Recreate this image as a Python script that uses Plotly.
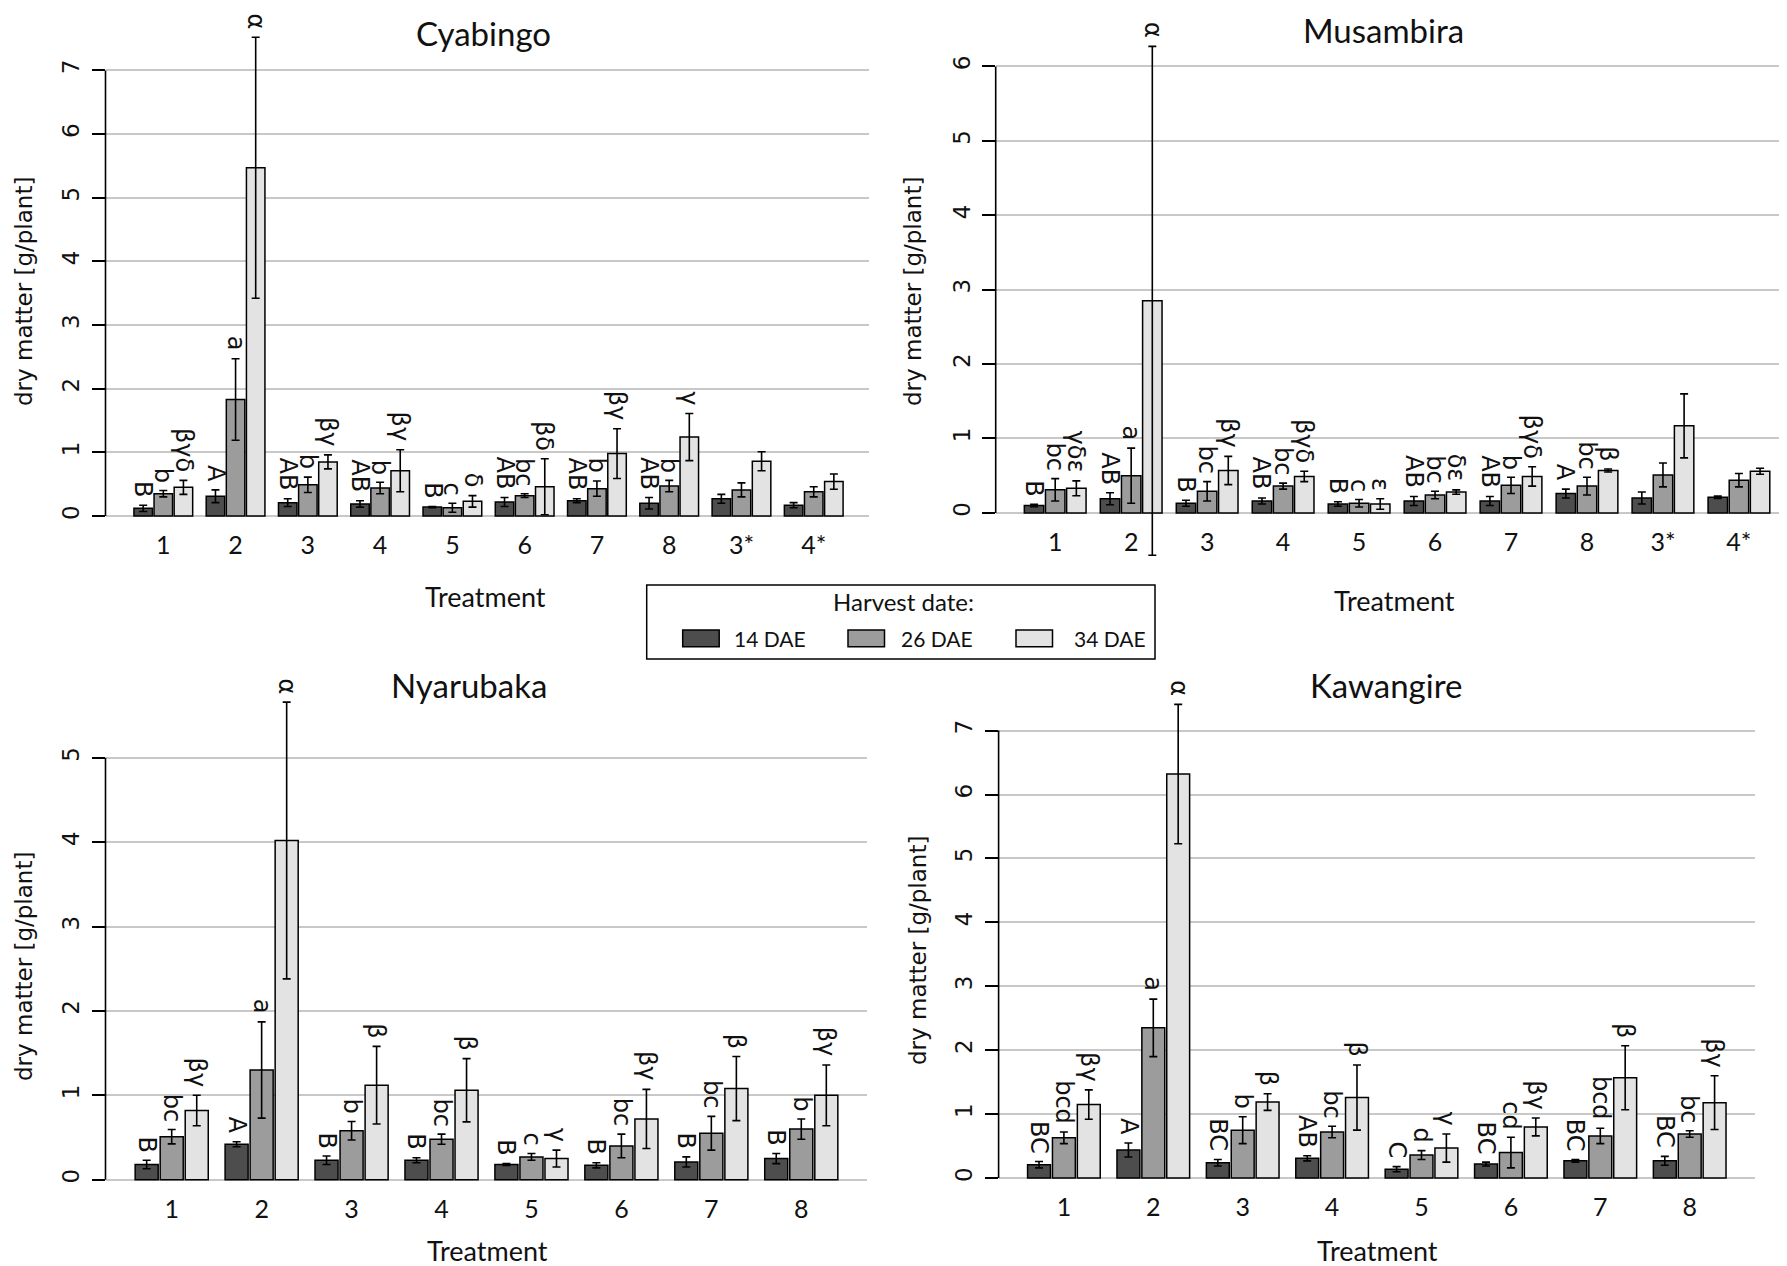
import plotly.graph_objects as go

W, H = 1787, 1266

# ---------------- data ----------------
treat10 = ["1", "2", "3", "4", "5", "6", "7", "8", "3*", "4*"]
treat8 = ["1", "2", "3", "4", "5", "6", "7", "8"]
series_names = ["14 DAE", "26 DAE", "34 DAE"]

# Cyabingo
cya_d14 = [0.12, 0.31, 0.21, 0.19, 0.14, 0.22, 0.24, 0.20, 0.27, 0.17]
cya_e14 = [0.05, 0.10, 0.06, 0.05, 0.01, 0.07, 0.03, 0.09, 0.07, 0.04]
cya_d26 = [0.35, 1.83, 0.49, 0.44, 0.13, 0.32, 0.43, 0.47, 0.41, 0.38]
cya_e26 = [0.05, 0.64, 0.12, 0.09, 0.07, 0.03, 0.12, 0.09, 0.11, 0.08]
cya_d34 = [0.45, 5.47, 0.85, 0.71, 0.23, 0.46, 0.98, 1.24, 0.86, 0.54]
cya_e34 = [0.11, 2.05, 0.11, 0.33, 0.09, 0.44, 0.39, 0.37, 0.15, 0.12]
cya_l14 = ["B", "A", "AB", "AB", "B", "AB", "AB", "AB", "", ""]
cya_l26 = ["b", "a", "b", "b", "c", "bc", "b", "b", "", ""]
cya_l34 = ["βγδ", "α", "βγ", "βγ", "δ", "βδ", "βγ", "γ", "", ""]

# Musambira
mus_d14 = [0.10, 0.19, 0.13, 0.16, 0.12, 0.16, 0.16, 0.26, 0.20, 0.21]
mus_e14 = [0.015, 0.08, 0.04, 0.04, 0.03, 0.06, 0.06, 0.06, 0.08, 0.015]
mus_d26 = [0.31, 0.50, 0.29, 0.36, 0.13, 0.24, 0.37, 0.36, 0.51, 0.44]
mus_e26 = [0.15, 0.37, 0.13, 0.04, 0.05, 0.05, 0.11, 0.12, 0.16, 0.09]
mus_d34 = [0.33, 2.85, 0.57, 0.49, 0.12, 0.28, 0.49, 0.57, 1.17, 0.56]
mus_e34 = [0.10, 3.42, 0.19, 0.07, 0.07, 0.03, 0.13, 0.02, 0.43, 0.04]
mus_l14 = ["B", "AB", "B", "AB", "B", "AB", "AB", "A", "", ""]
mus_l26 = ["bc", "a", "bc", "bc", "c", "bc", "b", "bc", "", ""]
mus_l34 = ["γδε", "α", "βγ", "βγδ", "ε", "δε", "βγδ", "β", "", ""]

# Nyarubaka
nya_d14 = [0.18, 0.42, 0.23, 0.23, 0.18, 0.17, 0.21, 0.25]
nya_e14 = [0.05, 0.03, 0.05, 0.03, 0.01, 0.03, 0.06, 0.06]
nya_d26 = [0.51, 1.30, 0.58, 0.48, 0.27, 0.40, 0.55, 0.60]
nya_e26 = [0.085, 0.57, 0.11, 0.06, 0.04, 0.14, 0.20, 0.12]
nya_d34 = [0.82, 4.02, 1.12, 1.06, 0.25, 0.72, 1.08, 1.00]
nya_e34 = [0.18, 1.64, 0.46, 0.375, 0.10, 0.35, 0.38, 0.36]
nya_l14 = ["B", "A", "B", "B", "B", "B", "B", "B"]
nya_l26 = ["bc", "a", "b", "bc", "c", "bc", "bc", "b"]
nya_l34 = ["βγ", "α", "β", "β", "γ", "βγ", "β", "βγ"]

# Kawangire
kaw_d14 = [0.21, 0.44, 0.24, 0.31, 0.14, 0.22, 0.27, 0.27]
kaw_e14 = [0.05, 0.11, 0.05, 0.04, 0.04, 0.03, 0.02, 0.07]
kaw_d26 = [0.63, 2.35, 0.75, 0.72, 0.36, 0.40, 0.66, 0.69]
kaw_e26 = [0.09, 0.45, 0.21, 0.09, 0.07, 0.24, 0.12, 0.05]
kaw_d34 = [1.15, 6.32, 1.19, 1.26, 0.47, 0.80, 1.57, 1.18]
kaw_e34 = [0.23, 1.09, 0.13, 0.51, 0.22, 0.14, 0.50, 0.42]
kaw_l14 = ["BC", "A", "BC", "AB", "C", "BC", "BC", "BC"]
kaw_l26 = ["bcd", "a", "b", "bc", "d", "cd", "bcd", "bc"]
kaw_l34 = ["βγ", "α", "β", "β", "γ", "βγ", "β", "βγ"]

# ---------------- style / layout ----------------
COLORS = ["#4d4d4d", "#9c9c9c", "#e3e3e3"]
BARGAP = 0.165
BARGROUPGAP = 0.08
SANS = "Lato, 'Noto Sans', sans-serif"
VER = "'DejaVu Sans', Verdana, sans-serif"
TXT = "#111111"
OFF = 8  # default page margin of the html body

panels = [
    dict(name="Cyabingo", treat=treat10,
         vals=[cya_d14, cya_d26, cya_d34], errs=[cya_e14, cya_e26, cya_e34],
         labs=[cya_l14, cya_l26, cya_l34],
         xl=105.5, xr=868.7, c0=163.3, pitch=72.27, y0=516.0, ppu=63.66, tmax=7,
         top=8, bot=530, title=(483.7, 33), treat_lab=(485.4, 597), ylab=(24, 292)),
    dict(name="Musambira", treat=treat10,
         vals=[mus_d14, mus_d26, mus_d34], errs=[mus_e14, mus_e26, mus_e34],
         labs=[mus_l14, mus_l26, mus_l34],
         xl=995.7, xr=1795, c0=1055.2, pitch=75.97, y0=512.9, ppu=74.41, tmax=6,
         top=8, bot=562, title=(1383, 8), treat_lab=(1394.7, 600), ylab=(913, 292)),
    dict(name="Nyarubaka", treat=treat8,
         vals=[nya_d14, nya_d26, nya_d34], errs=[nya_e14, nya_e26, nya_e34],
         labs=[nya_l14, nya_l26, nya_l34],
         xl=105.5, xr=867, c0=171.7, pitch=89.94, y0=1179.7, ppu=84.38, tmax=5,
         top=665, bot=1190, title=(468.6, 685), treat_lab=(487, 1250), ylab=(24, 967)),
    dict(name="Kawangire", treat=treat8,
         vals=[kaw_d14, kaw_d26, kaw_d34], errs=[kaw_e14, kaw_e26, kaw_e34],
         labs=[kaw_l14, kaw_l26, kaw_l34],
         xl=998.6, xr=1755, c0=1063.9, pitch=89.4, y0=1178.1, ppu=63.93, tmax=7,
         top=665, bot=1190, title=(1386, 685), treat_lab=(1377, 1250), ylab=(918, 951)),
]


def px(x):
    return (x - OFF) / W


def py(y):
    return 1 - (y - OFF) / H


fig = go.Figure()
annotations = []
shapes = []

for k, p in enumerate(panels):
    sfx = "" if k == 0 else str(k + 1)
    xa, ya = "x" + sfx, "y" + sfx
    n = len(p["treat"])
    xs = list(range(n))
    for i in range(3):
        fig.add_trace(go.Bar(
            x=xs, y=p["vals"][i], name=series_names[i], showlegend=False,
            marker=dict(color=COLORS[i], line=dict(color="#000000", width=1.5)),
            error_y=dict(type="data", array=p["errs"][i], visible=True,
                         color="#000000", thickness=1.6, width=4),
            xaxis=xa, yaxis=ya, offsetgroup=str(i),
        ))
        slot = (1 - BARGAP) / 3
        for g in range(n):
            lab = p["labs"][i][g]
            if lab:
                annotations.append(dict(
                    x=g + (i - 1) * slot, y=p["vals"][i][g] + p["errs"][i][g],
                    xref=xa, yref=ya, text=lab, showarrow=False,
                    textangle=90, xanchor="center", yanchor="bottom", yshift=6,
                    font=dict(family=VER, size=24, color=TXT)))

    xr0 = (p["xl"] - p["c0"]) / p["pitch"]
    xr1 = (p["xr"] - p["c0"]) / p["pitch"]
    yr0 = (p["y0"] - p["bot"]) / p["ppu"]
    yr1 = (p["y0"] - p["top"]) / p["ppu"]
    fig.layout["xaxis" + sfx] = dict(
        domain=[px(p["xl"]), min(1.0, px(p["xr"]))], range=[xr0, xr1],
        anchor="free", position=py(p["y0"]),
        tickvals=xs, ticktext=p["treat"], ticks="", showline=False,
        showgrid=False, zeroline=False, ticklabelstandoff=12,
        tickfont=dict(family=SANS, size=25, color=TXT), fixedrange=True)
    fig.layout["yaxis" + sfx] = dict(
        domain=[py(p["bot"]), min(1.0, py(p["top"]))], range=[yr0, yr1], anchor=xa,
        tickvals=list(range(p["tmax"] + 1)), ticks="outside", ticklen=13,
        tickwidth=1.5, tickcolor="#000000", tickangle=-90, ticklabelstandoff=3,
        tickfont=dict(family=VER, size=23, color=TXT),
        showgrid=True, gridcolor="#c8c8c8", gridwidth=1.6,
        zeroline=False, showline=False, fixedrange=True)
    # y axis line from 0 to max tick
    shapes.append(dict(type="line", xref=xa + " domain", yref=ya,
                       x0=0, x1=0, y0=0, y1=p["tmax"],
                       line=dict(color="#000000", width=1.6), layer="above"))
    # titles
    title_anchor = "top" if p["title"][1] <= OFF else "middle"
    annotations.append(dict(x=px(p["title"][0]), y=py(p["title"][1]), xref="paper", yref="paper",
                            text=p["name"], showarrow=False, xanchor="center",
                            yanchor=title_anchor,
                            font=dict(family=SANS, size=33, color=TXT)))
    annotations.append(dict(x=px(p["treat_lab"][0]), y=py(p["treat_lab"][1]), xref="paper",
                            yref="paper", text="Treatment", showarrow=False,
                            xanchor="center", yanchor="middle",
                            font=dict(family=SANS, size=27, color=TXT)))
    annotations.append(dict(x=px(p["ylab"][0]), y=py(p["ylab"][1]), xref="paper", yref="paper",
                            text="dry matter [g/plant]", showarrow=False, textangle=-90,
                            xanchor="center", yanchor="middle",
                            font=dict(family=VER, size=23, color=TXT)))

# ---------------- legend (drawn manually) ----------------
LEG_BOX = (646.7, 585, 1155, 659)
shapes.append(dict(type="rect", xref="paper", yref="paper",
                   x0=px(LEG_BOX[0]), x1=px(LEG_BOX[2]), y0=py(LEG_BOX[3]), y1=py(LEG_BOX[1]),
                   line=dict(color="#000000", width=1.5), fillcolor="white", layer="above"))
annotations.append(dict(x=px(903), y=py(601), xref="paper", yref="paper", text="Harvest date:",
                        showarrow=False, xanchor="center", yanchor="middle",
                        font=dict(family=SANS, size=24, color=TXT)))
LEG_SW = [(682.7, 732), (848, 899), (1016, 1072)]
for i, (sx, tx) in enumerate(LEG_SW):
    shapes.append(dict(type="rect", xref="paper", yref="paper",
                       x0=px(sx), x1=px(sx + 36.5), y0=py(646.7), y1=py(630),
                       line=dict(color="#000000", width=1.5), fillcolor=COLORS[i], layer="above"))
    annotations.append(dict(x=px(tx), y=py(638.5), xref="paper", yref="paper",
                            text=series_names[i], showarrow=False, xanchor="left",
                            yanchor="middle", font=dict(family=SANS, size=21, color=TXT)))

fig.update_layout(
    width=W, height=H, margin=dict(l=0, r=0, t=0, b=0),
    paper_bgcolor="white", plot_bgcolor="white",
    barmode="group", bargap=BARGAP, bargroupgap=BARGROUPGAP,
    annotations=annotations, shapes=shapes, showlegend=False,
)

fig.write_html("out.html")
